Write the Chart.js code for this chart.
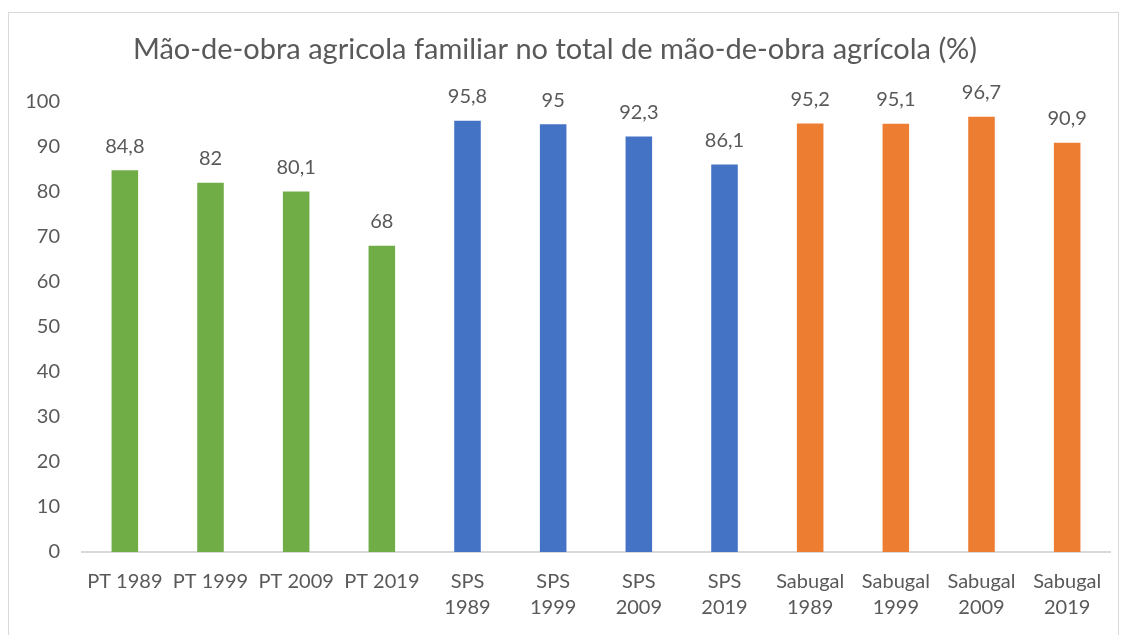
<!DOCTYPE html>
<html lang="pt">
<head>
  <meta charset="UTF-8">
  <title>Mão-de-obra agricola familiar</title>
  <script src="https://cdn.jsdelivr.net/npm/chart.js"></script>
  <style>
    html, body {
      margin: 0;
      padding: 0;
      background: #fff;
      overflow: hidden;
    }
    .wrap {
      position: relative;
      width: 1125px;
      height: 635px;
    }
    .frame {
      position: absolute;
      left: 8px;
      top: 12px;
      width: 1109px;
      height: 640px;
      border: 1px solid #d9d9d9;
      pointer-events: none;
    }
  </style>
</head>
<body>
  <div class="wrap">
    <canvas id="chart" width="1125" height="635"></canvas>
    <div class="frame"></div>
  </div>

  <script>
    const categories = [
      'PT 1989', 'PT 1999', 'PT 2009', 'PT 2019',
      ['SPS', '1989'], ['SPS', '1999'], ['SPS', '2009'], ['SPS', '2019'],
      ['Sabugal', '1989'], ['Sabugal', '1999'], ['Sabugal', '2009'], ['Sabugal', '2019']
    ];
    const values = [84.8, 82, 80.1, 68, 95.8, 95, 92.3, 86.1, 95.2, 95.1, 96.7, 90.9];
    const yTicks = [0, 10, 20, 30, 40, 50, 60, 70, 80, 90, 100];

    const GREEN = '#70ad47', BLUE = '#4472c4', ORANGE = '#ed7d31';
    const barColors = [GREEN, GREEN, GREEN, GREEN, BLUE, BLUE, BLUE, BLUE, ORANGE, ORANGE, ORANGE, ORANGE];

    const textColor = '#595959';
    const fontFamily = 'Lato, "Open Sans", sans-serif';

    // values above the bars, with comma decimals
    const valueLabels = {
      id: 'valueLabels',
      afterDatasetsDraw(chart) {
        const ctx = chart.ctx;
        const meta = chart.getDatasetMeta(0);
        ctx.save();
        ctx.font = '20px ' + fontFamily;
        ctx.fillStyle = textColor;
        ctx.textAlign = 'center';
        ctx.textBaseline = 'middle';
        meta.data.forEach((bar, i) => {
          const txt = String(values[i]).replace('.', ',');
          ctx.fillText(txt, bar.x, bar.y - 24);
        });
        ctx.restore();
      }
    };

    new Chart(document.getElementById('chart'), {
      type: 'bar',
      data: {
        labels: categories,
        datasets: [{
          data: values,
          backgroundColor: barColors,
          barPercentage: 0.31,
          categoryPercentage: 1
        }]
      },
      options: {
        responsive: false,
        animation: false,
        layout: { padding: { top: 20, left: 0, right: 15, bottom: 0 } },
        plugins: {
          legend: { display: false },
          tooltip: { enabled: false },
          title: {
            display: true,
            text: 'Mão-de-obra agricola familiar no total de mão-de-obra agrícola (%)',
            color: textColor,
            font: { family: fontFamily, size: 29, weight: 'normal', lineHeight: 1.2 },
            padding: { top: 12, bottom: 35 }
          }
        },
        scales: {
          x: {
            grid: { display: false },
            border: { display: true, color: '#d9d9d9', width: 2 },
            ticks: {
              color: textColor,
              font: { family: fontFamily, size: 20, lineHeight: 1.3 },
              padding: 9,
              maxRotation: 0,
              autoSkip: false
            },
            afterFit(scale) { scale.height = 83; }
          },
          y: {
            min: 0,
            max: 100,
            afterBuildTicks(scale) { scale.ticks = yTicks.map(v => ({ value: v })); },
            grid: { display: false },
            border: { display: false },
            ticks: {
              color: textColor,
              font: { family: fontFamily, size: 20 },
              padding: 14
            },
            afterFit(scale) { scale.width = 82; }
          }
        }
      },
      plugins: [valueLabels]
    });
  </script>
</body>
</html>
